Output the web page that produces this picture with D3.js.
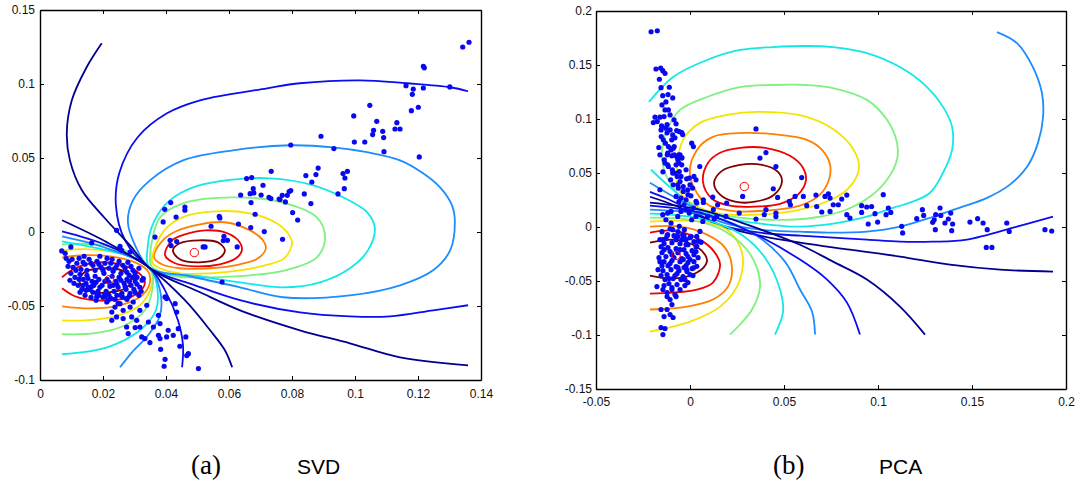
<!DOCTYPE html>
<html>
<head>
<meta charset="utf-8">
<script src="https://cdn.jsdelivr.net/npm/d3@7"></script>
<style>
  body { margin: 0; background: #fff; }
  .tick text { font-family: Arial, "Liberation Sans", sans-serif; font-size: 12px; fill: #111; }
</style>
</head>
<body>
<svg id="chart" width="1081" height="481"></svg>
<script>
// ---- tick labels ----
const svdXTicks = [0, 0.02, 0.04, 0.06, 0.08, 0.1, 0.12, 0.14];
const svdYTicks = [-0.1, -0.05, 0, 0.05, 0.1, 0.15];
const pcaXTicks = [-0.05, 0, 0.05, 0.1, 0.15, 0.2];
const pcaYTicks = [-0.15, -0.1, -0.05, 0, 0.05, 0.1, 0.15, 0.2];

// ---- mixture component means (red circles) ----
const svdCenters = [[0.0220, -0.0322], [0.0490, -0.0139]];
const pcaCenters = [[-0.0074, -0.0262], [0.0289, 0.0375]];

// ---- contour levels, 0 = lowest ... 8 = highest ----
const svdContours = [
  {lvl: 8, closed: true, pts: [[0.0127,-0.0313],[0.0146,-0.0266],[0.0206,-0.0245],[0.0260,-0.0259],[0.0289,-0.0313],[0.0276,-0.0374],[0.0222,-0.0407],[0.0159,-0.0401],[0.0130,-0.0360]]},
  {lvl: 7, pts: [[0.0070,-0.0306],[0.0111,-0.0245],[0.0181,-0.0205],[0.0254,-0.0218],[0.0311,-0.0272],[0.0333,-0.0340],[0.0311,-0.0414],[0.0254,-0.0455],[0.0175,-0.0461],[0.0111,-0.0434],[0.0070,-0.0380]]},
  {lvl: 6, pts: [[0.0070,-0.0171],[0.0143,-0.0157],[0.0222,-0.0164],[0.0302,-0.0205],[0.0343,-0.0266],[0.0349,-0.0340],[0.0324,-0.0428],[0.0254,-0.0495],[0.0159,-0.0516],[0.0070,-0.0502]]},
  {lvl: 5, pts: [[0.0070,-0.0124],[0.0159,-0.0117],[0.0254,-0.0144],[0.0324,-0.0205],[0.0356,-0.0286],[0.0349,-0.0394],[0.0317,-0.0495],[0.0238,-0.0570],[0.0143,-0.0597],[0.0070,-0.0597]]},
  {lvl: 4, pts: [[0.0070,-0.0083],[0.0175,-0.0083],[0.0270,-0.0124],[0.0333,-0.0205],[0.0356,-0.0272],[0.0356,-0.0394],[0.0333,-0.0529],[0.0270,-0.0630],[0.0175,-0.0684],[0.0070,-0.0691]]},
  {lvl: 3, pts: [[0.0070,-0.0063],[0.0213,-0.0124],[0.0292,-0.0171],[0.0349,-0.0245],[0.0371,-0.0360],[0.0368,-0.0529],[0.0317,-0.0664],[0.0213,-0.0779],[0.0070,-0.0826]]},
  {lvl: 2, pts: [[0.0070,-0.0029],[0.0213,-0.0110],[0.0349,-0.0245],[0.0381,-0.0394],[0.0381,-0.0563],[0.0343,-0.0698],[0.0292,-0.0813],[0.0254,-0.0914]]},
  {lvl: 1, pts: [[0.0070,0.0005],[0.0213,-0.0090],[0.0349,-0.0245],[0.0397,-0.0394],[0.0438,-0.0597],[0.0454,-0.0766],[0.0451,-0.0914]]},
  {lvl: 0, pts: [[0.0070,0.0079],[0.0213,-0.0070],[0.0349,-0.0245],[0.0460,-0.0461],[0.0540,-0.0664],[0.0587,-0.0799],[0.0610,-0.0914]]},
  {lvl: 8, closed: true, pts: [[0.0422,-0.0124],[0.0444,-0.0076],[0.0505,-0.0056],[0.0565,-0.0070],[0.0587,-0.0124],[0.0568,-0.0178],[0.0505,-0.0205],[0.0444,-0.0184]]},
  {lvl: 7, closed: true, pts: [[0.0397,-0.0157],[0.0419,-0.0056],[0.0460,-0.0016],[0.0524,0.0011],[0.0587,-0.0002],[0.0629,-0.0056],[0.0641,-0.0124],[0.0622,-0.0178],[0.0571,-0.0218],[0.0492,-0.0232],[0.0429,-0.0211]]},
  {lvl: 6, closed: true, pts: [[0.0362,-0.0171],[0.0387,-0.0063],[0.0432,0.0005],[0.0508,0.0052],[0.0587,0.0066],[0.0667,0.0011],[0.0708,-0.0056],[0.0717,-0.0110],[0.0692,-0.0178],[0.0635,-0.0218],[0.0540,-0.0245],[0.0444,-0.0245],[0.0387,-0.0218]]},
  {lvl: 5, closed: true, pts: [[0.0356,-0.0205],[0.0368,-0.0090],[0.0400,0.0025],[0.0460,0.0106],[0.0556,0.0140],[0.0667,0.0126],[0.0746,0.0066],[0.0787,-0.0009],[0.0800,-0.0076],[0.0775,-0.0178],[0.0714,-0.0225],[0.0635,-0.0259],[0.0540,-0.0279],[0.0444,-0.0279],[0.0381,-0.0245]]},
  {lvl: 4, closed: true, pts: [[0.0352,-0.0225],[0.0356,-0.0056],[0.0381,0.0099],[0.0454,0.0194],[0.0613,0.0234],[0.0771,0.0199],[0.0879,0.0099],[0.0905,-0.0036],[0.0879,-0.0171],[0.0778,-0.0259],[0.0667,-0.0293],[0.0540,-0.0306],[0.0429,-0.0299],[0.0371,-0.0259]]},
  {lvl: 3, closed: true, pts: [[0.0349,-0.0245],[0.0343,-0.0080],[0.0362,0.0070],[0.0410,0.0210],[0.0490,0.0305],[0.0603,0.0352],[0.0730,0.0363],[0.0857,0.0322],[0.0968,0.0228],[0.1038,0.0134],[0.1063,0.0025],[0.1041,-0.0124],[0.0984,-0.0245],[0.0889,-0.0340],[0.0771,-0.0374],[0.0635,-0.0340],[0.0508,-0.0299]]},
  {lvl: 2, closed: true, pts: [[0.0349,-0.0245],[0.0302,-0.0090],[0.0279,0.0066],[0.0295,0.0214],[0.0349,0.0349],[0.0454,0.0484],[0.0613,0.0552],[0.0794,0.0586],[0.0930,0.0572],[0.1038,0.0539],[0.1143,0.0484],[0.1216,0.0397],[0.1270,0.0302],[0.1308,0.0180],[0.1317,0.0066],[0.1302,-0.0124],[0.1248,-0.0259],[0.1143,-0.0360],[0.0984,-0.0428],[0.0771,-0.0441],[0.0635,-0.0374],[0.0476,-0.0299]]},
  {lvl: 1, pts: [[0.1359,0.0951],[0.1302,0.0978],[0.1165,0.1005],[0.1016,0.1025],[0.0825,0.1005],[0.0721,0.0971],[0.0508,0.0890],[0.0403,0.0802],[0.0310,0.0640],[0.0252,0.0400],[0.0241,0.0180],[0.0270,-0.0056],[0.0349,-0.0245],[0.0492,-0.0360],[0.0635,-0.0461],[0.0825,-0.0543],[0.0984,-0.0570],[0.1111,-0.0570],[0.1248,-0.0529],[0.1359,-0.0495]]},
  {lvl: 0, pts: [[0.0196,0.1275],[0.0148,0.1113],[0.0101,0.0890],[0.0085,0.0667],[0.0095,0.0484],[0.0133,0.0282],[0.0206,0.0093],[0.0286,-0.0090],[0.0349,-0.0245],[0.0508,-0.0407],[0.0635,-0.0529],[0.0825,-0.0664],[0.0984,-0.0752],[0.1143,-0.0847],[0.1359,-0.0901]]}
];

const pcaContours = [
  {lvl: 8, closed: true, pts: [[0.0128,0.0409],[0.0170,0.0520],[0.0266,0.0576],[0.0383,0.0576],[0.0468,0.0511],[0.0489,0.0419],[0.0447,0.0299],[0.0346,0.0234],[0.0239,0.0234],[0.0160,0.0299]]},
  {lvl: 7, closed: true, pts: [[0.0069,0.0419],[0.0096,0.0594],[0.0160,0.0687],[0.0266,0.0733],[0.0399,0.0733],[0.0532,0.0659],[0.0601,0.0548],[0.0617,0.0437],[0.0574,0.0299],[0.0479,0.0215],[0.0346,0.0188],[0.0213,0.0197],[0.0117,0.0262]]},
  {lvl: 6, closed: true, pts: [[0,0.0483],[0.0037,0.0714],[0.0122,0.0835],[0.0303,0.0872],[0.0479,0.0853],[0.0622,0.0807],[0.0702,0.0714],[0.0745,0.0576],[0.0739,0.0437],[0.0691,0.0299],[0.0585,0.0197],[0.0399,0.0151],[0.0213,0.0151],[0.0080,0.0225]]},
  {lvl: 5, closed: true, pts: [[-0.0069,0.0557],[-0.0037,0.0807],[0.0053,0.0964],[0.0197,0.1038],[0.0356,0.1066],[0.0622,0.1019],[0.0814,0.0835],[0.0894,0.0622],[0.0894,0.0502],[0.0835,0.0345],[0.0761,0.0262],[0.0585,0.0160],[0.0372,0.0114],[0.0160,0.0123],[0.0011,0.0215],[-0.0064,0.0363]]},
  {lvl: 4, closed: true, pts: [[-0.0149,0.0714],[-0.0117,0.0918],[-0.0053,0.1084],[0.0090,0.1204],[0.0266,0.1296],[0.0441,0.1315],[0.0622,0.1315],[0.0761,0.1287],[0.0941,0.1177],[0.1048,0.0992],[0.1101,0.0779],[0.1101,0.0622],[0.1048,0.0437],[0.0957,0.0280],[0.0830,0.0160],[0.0691,0.0095],[0.0532,0.0067],[0.0319,0.0077],[0.0133,0.0123],[-0.0011,0.0215],[-0.0096,0.0382],[-0.0138,0.0530]]},
  {lvl: 3, pts: [[-0.0218,0.1158],[-0.0090,0.1389],[0.0090,0.1546],[0.0266,0.1639],[0.0441,0.1666],[0.0622,0.1676],[0.0761,0.1666],[0.0941,0.1611],[0.1117,0.1481],[0.1261,0.1296],[0.1346,0.1112],[0.1394,0.0927],[0.1394,0.0714],[0.1346,0.0502],[0.1277,0.0317],[0.1170,0.0225],[0.1080,0.0178],[0.0941,0.0095],[0.0761,0.0031],[0.0585,0.0003],[0.0479,0.0012],[0.0266,0.0058],[0.0053,0.0160],[-0.0090,0.0345],[-0.0207,0.0530]]},
  {lvl: 2, pts: [[0.1633,0.1805],[0.1739,0.1703],[0.1824,0.1481],[0.1872,0.1241],[0.1878,0.1019],[0.1851,0.0779],[0.1793,0.0557],[0.1700,0.0390],[0.1580,0.0270],[0.1436,0.0180],[0.1293,0.0095],[0.1117,0.0003],[0.0941,-0.0043],[0.0761,-0.0053],[0.0585,-0.0043],[0.0372,-0.0025],[0.0160,0.0049],[0,0.0197],[-0.0133,0.0326],[-0.0213,0.0409]]},
  {lvl: 1, pts: [[0.1931,0.0095],[0.1739,0.0003],[0.1473,-0.0117],[0.1293,-0.0136],[0.1117,-0.0136],[0.0941,-0.0117],[0.0761,-0.0099],[0.0585,-0.0080],[0.0372,-0.0053],[0.0160,0.0021],[0,0.0160],[-0.0133,0.0271],[-0.0213,0.0326]]},
  {lvl: 0, pts: [[0.1931,-0.0413],[0.1649,-0.0395],[0.1383,-0.0349],[0.1117,-0.0274],[0.0851,-0.0210],[0.0585,-0.0145],[0.0372,-0.0080],[0.0160,0.0012],[0,0.0141],[-0.0133,0.0234],[-0.0213,0.0280]]},
  {lvl: 8, pts: [[-0.0213,-0.0145],[-0.0090,-0.0117],[0.0016,-0.0164],[0.0080,-0.0256],[0.0090,-0.0321],[0.0037,-0.0422],[-0.0090,-0.0478],[-0.0213,-0.0450]]},
  {lvl: 7, pts: [[-0.0213,-0.0053],[-0.0090,-0.0034],[0.0053,-0.0117],[0.0128,-0.0228],[0.0160,-0.0349],[0.0122,-0.0515],[0.0037,-0.0579],[-0.0090,-0.0607],[-0.0213,-0.0616]]},
  {lvl: 6, pts: [[-0.0213,0.0003],[-0.0053,0.0003],[0.0090,-0.0071],[0.0186,-0.0191],[0.0223,-0.0367],[0.0202,-0.0552],[0.0122,-0.0672],[-0.0016,-0.0737],[-0.0213,-0.0764]]},
  {lvl: 5, pts: [[-0.0213,0.0049],[0.0053,0.0049],[0.0197,-0.0025],[0.0266,-0.0182],[0.0282,-0.0330],[0.0250,-0.0552],[0.0160,-0.0737],[0,-0.0876],[-0.0213,-0.0968]]},
  {lvl: 4, pts: [[-0.0213,0.0086],[0,0.0067],[0.0160,-0.0016],[0.0293,-0.0191],[0.0356,-0.0376],[0.0372,-0.0561],[0.0330,-0.0764],[0.0266,-0.0903],[0.0213,-0.0996]]},
  {lvl: 3, pts: [[-0.0213,0.0123],[0.0053,0.0077],[0.0266,-0.0062],[0.0399,-0.0284],[0.0479,-0.0579],[0.0495,-0.0783],[0.0452,-0.0996]]},
  {lvl: 2, pts: [[-0.0213,0.0160],[0.0106,0.0104],[0.0346,-0.0071],[0.0505,-0.0321],[0.0585,-0.0579],[0.0649,-0.0783],[0.0665,-0.0996]]},
  {lvl: 1, pts: [[-0.0213,0.0197],[0.0053,0.0132],[0.0319,-0.0043],[0.0585,-0.0302],[0.0729,-0.0487],[0.0835,-0.0700],[0.0904,-0.0996]]},
  {lvl: 0, pts: [[-0.0213,0.0225],[0.0053,0.0160],[0.0319,0.0012],[0.0585,-0.0164],[0.0761,-0.0321],[0.0941,-0.0487],[0.1117,-0.0737],[0.1250,-0.0996]]}
];

// ---- samples ----
const svdPoints = [
  [0.1342,0.1250],[0.1362,0.1282],[0.1217,0.1120],[0.1220,0.1109],[0.1162,0.0989],[0.1185,0.0966],[0.1182,0.0930],[0.1217,0.0973],[0.1301,0.0980],[0.1179,0.0820],
  [0.1201,0.0843],[0.1047,0.0856],[0.0996,0.0784],[0.1069,0.0748],[0.1059,0.0687],[0.1056,0.0658],[0.1088,0.0680],[0.1091,0.0638],[0.1133,0.0739],[0.1127,0.0696],
  [0.1143,0.0696],[0.0998,0.0608],[0.1031,0.0608],[0.1092,0.0543],[0.1204,0.0507],[0.0892,0.0647],[0.0933,0.0564],[0.0796,0.0588],[0.0734,0.0410],[0.0883,0.0432],
  [0.0876,0.0388],[0.0844,0.0381],[0.0863,0.0338],[0.0962,0.0395],[0.0976,0.0410],[0.0968,0.0365],[0.0966,0.0293],[0.0946,0.0257],[0.0839,0.0257],[0.0796,0.0280],
  [0.0785,0.0248],[0.0769,0.0248],[0.0759,0.0223],[0.0727,0.0234],[0.0702,0.0250],[0.0708,0.0316],[0.0677,0.0293],[0.0679,0.0264],[0.0672,0.0368],[0.0656,0.0361],
  [0.0637,0.0250],[0.0667,0.0259],[0.0733,0.0226],[0.0762,0.0219],[0.0779,0.0203],[0.0860,0.0192],[0.0670,0.0199],[0.0415,0.0199],[0.0396,0.0153],[0.0460,0.0169],
  [0.0460,0.0147],[0.0683,0.0120],[0.0802,0.0131],[0.0818,0.0081],[0.0391,0.0068],[0.0432,0.0101],[0.0569,0.0106],[0.0571,0.0095],[0.0543,0.0039],[0.0630,0.0054],
  [0.0669,0.0030],[0.0712,0.0003],[0.0770,-0.0049],[0.0584,-0.0029],[0.0595,-0.0056],[0.0582,-0.0058],[0.0626,-0.0101],[0.0518,-0.0101],[0.0524,-0.0101],[0.0416,-0.0092],
  [0.0413,-0.0056],[0.0365,-0.0034],[0.0791,0.0273],[0.0578,-0.0338],[0.0434,-0.0065],[0.0243,0.0011],[0.0164,-0.0074],[0.0254,-0.0097],[0.0259,-0.0124],[0.0286,-0.0135],
  [0.0098,-0.0101],[0.0069,-0.0128],[0.0080,-0.0144],
  [0.0328,-0.0315],[0.0397,-0.0439],[0.0402,-0.0450],[0.0339,-0.0495],[0.0429,-0.0484],[0.0434,-0.0541],[0.0376,-0.0563],[0.0381,-0.0619],[0.0360,-0.0642],[0.0344,-0.0608],
  [0.0407,-0.0664],[0.0402,-0.0709],[0.0381,-0.0720],[0.0376,-0.0698],[0.0439,-0.0653],[0.0463,-0.0709],[0.0444,-0.0772],[0.0466,-0.0835],[0.0471,-0.0822],[0.0383,-0.0793],
  [0.0397,-0.0860],[0.0394,-0.0907],[0.0503,-0.0923],[0.0349,-0.0747],[0.0323,-0.0709],[0.0317,-0.0642],[0.0280,-0.0686],[0.0275,-0.0642],[0.0307,-0.0597],[0.0291,-0.0574],
  [0.0264,-0.0585],[0.0243,-0.0574],[0.0228,-0.0597],[0.0228,-0.0541],[0.0254,-0.0484],[0.0275,-0.0450],[0.0296,-0.0473],[0.0317,-0.0529],[0.0286,-0.0507],[0.0264,-0.0529],
  [0.0238,-0.0507],[0.0212,-0.0473],[0.0206,-0.0439],[0.0180,-0.0439],[0.0153,-0.0372],[0.0333,-0.0720],[0.0423,-0.0698],[0.0302,-0.0646],
  [0.0092,-0.0198],[0.0105,-0.0239],[0.0117,-0.0211],[0.0130,-0.0252],[0.0143,-0.0218],[0.0156,-0.0184],[0.0168,-0.0225],[0.0181,-0.0198],[0.0194,-0.0239],[0.0206,-0.0211],
  [0.0219,-0.0245],[0.0232,-0.0266],[0.0244,-0.0225],[0.0257,-0.0279],[0.0270,-0.0245],[0.0283,-0.0293],[0.0295,-0.0259],[0.0308,-0.0306],[0.0098,-0.0279],[0.0111,-0.0306],
  [0.0127,-0.0286],[0.0137,-0.0320],[0.0149,-0.0293],[0.0165,-0.0333],[0.0175,-0.0299],[0.0187,-0.0320],[0.0203,-0.0279],[0.0213,-0.0320],[0.0229,-0.0299],[0.0241,-0.0333],
  [0.0251,-0.0306],[0.0267,-0.0347],[0.0276,-0.0320],[0.0289,-0.0360],[0.0302,-0.0333],[0.0121,-0.0360],[0.0133,-0.0387],[0.0146,-0.0347],[0.0159,-0.0387],[0.0171,-0.0360],
  [0.0184,-0.0401],[0.0197,-0.0360],[0.0210,-0.0401],[0.0222,-0.0367],[0.0235,-0.0401],[0.0248,-0.0374],[0.0260,-0.0414],[0.0273,-0.0387],[0.0286,-0.0414],[0.0298,-0.0387],
  [0.0143,-0.0428],[0.0162,-0.0441],[0.0181,-0.0414],[0.0200,-0.0441],[0.0219,-0.0428],[0.0238,-0.0455],[0.0257,-0.0428],[0.0276,-0.0455],[0.0083,-0.0178],[0.0190,-0.0164],
  [0.0229,-0.0184],[0.0140,-0.0164],[0.0279,-0.0205],[0.0317,-0.0374],[0.0314,-0.0428],
  [0.0089,-0.0232],[0.0102,-0.0184],[0.0114,-0.0259],[0.0124,-0.0178],[0.0137,-0.0205],[0.0149,-0.0259],[0.0162,-0.0211],[0.0175,-0.0259],[0.0187,-0.0218],[0.0200,-0.0259],
  [0.0213,-0.0178],[0.0225,-0.0211],[0.0238,-0.0245],[0.0251,-0.0198],[0.0263,-0.0225],[0.0276,-0.0272],[0.0289,-0.0232],[0.0302,-0.0279],[0.0314,-0.0245],[0.0324,-0.0326],
  [0.0095,-0.0326],[0.0108,-0.0347],[0.0124,-0.0320],[0.0137,-0.0360],[0.0152,-0.0313],[0.0165,-0.0367],[0.0178,-0.0340],[0.0190,-0.0374],[0.0206,-0.0333],[0.0219,-0.0340],
  [0.0232,-0.0360],[0.0244,-0.0353],[0.0257,-0.0326],[0.0270,-0.0367],[0.0283,-0.0333],[0.0295,-0.0306],[0.0308,-0.0353],[0.0127,-0.0407],[0.0146,-0.0394],[0.0168,-0.0407],
  [0.0187,-0.0428],[0.0206,-0.0421],[0.0225,-0.0448],[0.0244,-0.0428],[0.0263,-0.0441],[0.0283,-0.0434],[0.0302,-0.0407],[0.0321,-0.0401],[0.0248,-0.0482],[0.0216,-0.0461],
  [0.0178,-0.0461]
];

const pcaPoints = [
  [-0.0207,0.1808],[-0.0174,0.1817],[-0.0181,0.1463],[-0.0156,0.1472],[-0.0145,0.1447],[-0.0133,0.1423],[-0.0163,0.1368],[-0.0154,0.1290],[-0.0110,0.1294],[-0.0145,0.1216],
  [-0.0117,0.1226],[-0.0092,0.1195],[-0.0133,0.1084],[-0.0115,0.1084],[-0.0186,0.1017],[-0.0160,0.1017],[-0.0138,0.1022],[-0.0174,0.0976],[-0.0195,0.0967],[-0.0151,0.0936],
  [-0.0129,0.0915],[-0.0106,0.0899],[-0.0074,0.0955],[-0.0071,0.0893],[-0.0044,0.0874],[-0.0039,0.0856],[-0.0166,0.0736],[-0.0153,0.0837],[-0.0142,0.0807],[-0.0131,0.0776],
  [-0.0097,0.0807],[-0.0115,0.0745],[-0.0089,0.0730],[-0.0121,0.0668],[-0.0097,0.0659],[-0.0071,0.0652],[-0.0053,0.0668],[-0.0044,0.0638],[-0.0059,0.0592],[-0.0044,0.0576],
  [-0.0133,0.0592],[-0.0115,0.0560],[-0.0094,0.0530],[-0.0080,0.0499],[-0.0068,0.0468],[-0.0053,0.0421],[-0.0018,0.0446],[0.0021,0.0468],[0.0009,0.0776],[0.0018,0.0745],
  [0.0052,0.0560],[-0.0103,0.0437],[-0.0089,0.0391],[-0.0062,0.0360],[-0.0036,0.0329],[-0.0122,0.0947],[-0.0057,0.0884],[-0.0154,0.0899],[-0.0092,0.0853],[-0.0084,0.0745],
  [-0.0119,0.0684],[-0.0084,0.0668],[-0.0060,0.0668],[-0.0043,0.0643],[-0.0065,0.0622],[-0.0137,0.0622],[-0.0119,0.0576],[-0.0074,0.0576],[-0.0057,0.0514],[-0.0092,0.0499],
  [-0.0048,0.0468],[-0.0004,0.0453],[0.0032,0.0437],[-0.0065,0.0391],[-0.0036,0.0375],[-0.0012,0.0345],[0.0014,0.0360],[0.0005,0.0289],[-0.0074,0.0283],[-0.0048,0.0268],
  [-0.0021,0.0252],[0.0032,0.0237],[0.0071,0.0227],[0.0121,0.0277],[0.0147,0.0206],[0.0280,0.0283],
  [-0.0128,0.1158],[-0.0106,0.1038],[-0.0085,0.0992],[-0.0149,0.1130],[-0.0122,0.0872],[-0.0080,0.0826],[-0.0160,0.0668],[-0.0101,0.0714],[-0.0144,0.0511],[-0.0021,0.0530],
  [0,0.0391],[-0.0032,0.0206],[-0.0059,0.0234],[-0.0011,0.0299],[-0.0160,0.0345],
  [0.0351,0.0908],[0.0372,0.0638],[0.0404,0.0689],[0.0457,0.0560],[0.0443,0.0354],[0.0466,0.0274],[0.0559,0.0283],[0.0528,0.0237],[0.0534,0.0206],[0.0404,0.0160],
  [0.0395,0.0114],[0.0457,0.0129],[0.0457,0.0098],[0.0351,0.0074],[0.0262,0.0129],[0.0191,0.0098],[0.0129,0.0074],[0.0094,0.0098],[0.0068,0.0052],[0.0032,0.0098],
  [-0.0004,0.0129],[-0.0021,0.0160],[-0.0048,0.0144],[-0.0065,0.0098],[-0.0101,0.0144],[-0.0119,0.0129],[-0.0145,0.0114],[-0.0128,0.0067],[-0.0101,0.0037],[-0.0057,0.0006],
  [-0.0092,-0.0025],[-0.0030,-0.0025],[-0.0039,-0.0071],[-0.0065,-0.0087],[-0.0119,-0.0071],[-0.0145,-0.0117],[-0.0021,-0.0117],[0.0005,-0.0087],[0.0041,-0.0133],[-0.0021,-0.0164],
  [0.0603,0.0283],[0.0718,0.0283],[0.0736,0.0308],[0.0745,0.0268],[0.0762,0.0206],[0.0789,0.0206],[0.0674,0.0190],[0.0621,0.0197],[0.0701,0.0139],[0.0745,0.0144],
  [0.0834,0.0114],[0.0851,0.0083],[0.0913,0.0197],[0.0940,0.0185],[0.0966,0.0190],[0.0913,0.0135],[0.0984,0.0123],[0.1028,0.0299],[0.0948,0.0028],[0.0998,0.0046],
  [0.1043,0.0114],[0.1055,0.0176],[0.1068,0.0135],[0.1126,0.0006],[0.1131,-0.0055],[0.1206,0.0077],[0.1236,0.0160],[0.1243,0.0107],[0.1291,0.0043],[0.1299,0.0067],
  [0.1307,0.0114],[0.1330,0.0176],[0.1334,0.0107],[0.1356,0.0037],[0.1374,0.0074],[0.1387,0.0129],[0.1397,0.0028],[0.1392,-0.0034],[0.1305,-0.0025],[0.1489,0.0046],
  [0.1530,0.0077],[0.1559,0.0037],[0.1581,-0.0025],[0.1576,-0.0189],[0.1606,-0.0189],[0.1685,0.0037],[0.1698,-0.0041],[0.1888,-0.0025],[0.1924,-0.0037],[0.0594,0.0458],
  [0.0670,0.0296],[0.0807,0.0259],[0.0834,0.0296],
  [-0.0138,-0.0154],[-0.0117,-0.0191],[-0.0096,-0.0145],[-0.0074,-0.0201],[-0.0053,-0.0154],[-0.0032,-0.0210],[-0.0011,-0.0164],[0.0011,-0.0219],[-0.0149,-0.0238],[-0.0128,-0.0274],
  [-0.0106,-0.0228],[-0.0085,-0.0284],[-0.0064,-0.0238],[-0.0043,-0.0293],[-0.0021,-0.0247],[0,-0.0302],[0.0021,-0.0256],[-0.0138,-0.0321],[-0.0117,-0.0358],[-0.0096,-0.0311],
  [-0.0074,-0.0367],[-0.0053,-0.0321],[-0.0032,-0.0376],[-0.0011,-0.0330],[0.0011,-0.0385],[-0.0144,-0.0404],[-0.0122,-0.0441],[-0.0101,-0.0395],[-0.0080,-0.0450],[-0.0059,-0.0404],
  [-0.0037,-0.0459],[-0.0016,-0.0413],[-0.0133,-0.0487],[-0.0112,-0.0524],[-0.0090,-0.0478],[-0.0069,-0.0533],[-0.0048,-0.0487],[-0.0027,-0.0542],[-0.0128,-0.0108],[-0.0085,-0.0080],
  [-0.0043,-0.0117],[0,-0.0099],[-0.0106,-0.0016],[-0.0064,-0.0043],[-0.0154,-0.0182],[0.0032,-0.0182],[-0.0160,-0.0321],[0.0043,-0.0284],
  [-0.0149,-0.0043],[-0.0122,-0.0080],[-0.0074,-0.0117],[-0.0032,-0.0080],[0.0021,-0.0136],[-0.0160,-0.0117],[-0.0138,-0.0210],[-0.0096,-0.0256],[-0.0053,-0.0210],[-0.0011,-0.0274],
  [0.0032,-0.0228],[-0.0149,-0.0358],[-0.0106,-0.0339],[-0.0064,-0.0376],[-0.0021,-0.0358],[0.0021,-0.0321],[-0.0154,-0.0450],[-0.0112,-0.0478],[-0.0069,-0.0432],[-0.0027,-0.0487],
  [0.0016,-0.0450],[-0.0138,-0.0542],[-0.0096,-0.0561],[-0.0053,-0.0579],[-0.0011,-0.0515],[-0.0122,-0.0607],[-0.0074,-0.0644],[-0.0165,-0.0284],[-0.0170,-0.0395],
  [-0.0176,-0.0552],[-0.0144,-0.0579],[-0.0096,-0.0579],[-0.0080,-0.0626],[-0.0122,-0.0644],[-0.0106,-0.0672],[-0.0096,-0.0718],[-0.0122,-0.0764],[-0.0154,-0.0764],[-0.0106,-0.0810],
  [-0.0138,-0.0829],[-0.0090,-0.0838],[-0.0154,-0.0931],[-0.0133,-0.0940],[-0.0144,-0.0996],
  [-0.0018,-0.0395],[0,-0.0441],[0.0018,-0.0379],[0.0036,-0.0364],[-0.0036,-0.0302],[0.0036,-0.0179],[0.0059,-0.0142],[0.0036,-0.0087],[0.0053,-0.0041],[0.0009,0.0067],
  [0.0018,0.0176],[0.0036,0.0222],[0.0071,0.0252],[0.0124,0.0160],[0.0142,0.0098],[0.0195,0.0222]
];

// jet colours for the 9 contour levels
const jet = ["#000090", "#0c0cf0", "#1c8cff", "#12e8e8", "#80f080", "#f4e400", "#ff8000", "#f00000", "#800000"];

const svg = d3.select("#chart");
const fmt = d => String(+d.toFixed(2));

function drawPanel(opt) {
  const g = svg.append("g");
  const x = d3.scaleLinear().domain(opt.xDomain).range([opt.left, opt.right]);
  const y = d3.scaleLinear().domain(opt.yDomain).range([opt.bottom, opt.top]);
  const line = d3.line().x(d => x(d[0])).y(d => y(d[1]));

  g.append("g").selectAll("path")
    .data(opt.contours)
    .join("path")
    .attr("d", c => line.curve(c.closed ? d3.curveCatmullRomClosed : d3.curveCatmullRom)(c.pts))
    .attr("fill", "none")
    .attr("stroke", c => jet[c.lvl])
    .attr("stroke-width", 1.8);

  g.append("g").selectAll("circle")
    .data(opt.points)
    .join("circle")
    .attr("cx", d => x(d[0]))
    .attr("cy", d => y(d[1]))
    .attr("r", 2.6)
    .attr("fill", "#0808f2");

  g.append("g").selectAll("circle")
    .data(opt.centers)
    .join("circle")
    .attr("cx", d => x(d[0]))
    .attr("cy", d => y(d[1]))
    .attr("r", 4.2)
    .attr("fill", "none")
    .attr("stroke", "#ff0000")
    .attr("stroke-width", 1);

  const styleAxis = a => {
    a.select(".domain").attr("stroke", "#000").attr("stroke-width", 1.4);
    a.selectAll(".tick line").attr("stroke", "#000");
  };
  g.append("g").attr("transform", `translate(0,${opt.bottom})`)
    .call(d3.axisBottom(x).tickValues(opt.xTicks).tickFormat(fmt).tickSize(-4).tickSizeOuter(0).tickPadding(opt.xPad))
    .call(styleAxis);
  g.append("g").attr("transform", `translate(0,${opt.top})`)
    .call(d3.axisTop(x).tickValues(opt.xTicks).tickFormat("").tickSize(-4).tickSizeOuter(0))
    .call(styleAxis);
  g.append("g").attr("transform", `translate(${opt.left},0)`)
    .call(d3.axisLeft(y).tickValues(opt.yTicks).tickFormat(fmt).tickSize(-4).tickSizeOuter(0).tickPadding(opt.yPad))
    .call(styleAxis);
  g.append("g").attr("transform", `translate(${opt.right},0)`)
    .call(d3.axisRight(y).tickValues(opt.yTicks).tickFormat("").tickSize(-4).tickSizeOuter(0))
    .call(styleAxis);

  g.append("text").attr("x", opt.capX).attr("y", 474)
    .attr("font-family", "'Times New Roman', 'Liberation Serif', serif").attr("font-size", 27)
    .text(opt.letter);
  g.append("text").attr("x", opt.capX + 106).attr("y", 474)
    .attr("font-family", "Arial, 'Liberation Sans', sans-serif").attr("font-size", 21)
    .text(opt.name);
}

drawPanel({
  xDomain: [0, 0.14], yDomain: [-0.1, 0.15],
  left: 40, right: 481, top: 10, bottom: 380, xPad: 9, yPad: 5,
  xTicks: svdXTicks, yTicks: svdYTicks,
  contours: svdContours, points: svdPoints, centers: svdCenters,
  capX: 191, letter: "(a)", name: "SVD"
});
drawPanel({
  xDomain: [-0.05, 0.2], yDomain: [-0.15, 0.2],
  left: 596, right: 1066, top: 11, bottom: 389, xPad: 8, yPad: 4,
  xTicks: pcaXTicks, yTicks: pcaYTicks,
  contours: pcaContours, points: pcaPoints, centers: pcaCenters,
  capX: 773, letter: "(b)", name: "PCA"
});
</script>
</body>
</html>
